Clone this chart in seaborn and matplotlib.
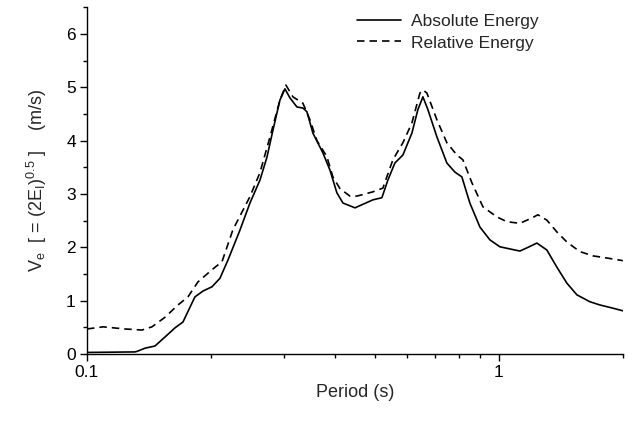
import numpy as np
import pandas as pd
import matplotlib
matplotlib.use("Agg")
import matplotlib.pyplot as plt
import seaborn as sns
from matplotlib.ticker import FixedLocator, NullFormatter, MultipleLocator

# Absolute energy (solid)
abs_period = [0.100, 0.1307, 0.1323, 0.1383, 0.1462, 0.1547, 0.1635, 0.1710, 0.1828,
              0.1912, 0.2011, 0.2103, 0.2199, 0.2351, 0.2487, 0.2630, 0.2735, 0.2829,
              0.2941, 0.3024, 0.3110, 0.3234, 0.3344, 0.3420, 0.3536, 0.3739, 0.3888,
              0.4044, 0.4183, 0.4473, 0.4946, 0.5200, 0.5377, 0.5591, 0.5848, 0.6149,
              0.6359, 0.6540, 0.6725, 0.7072, 0.7477, 0.7820, 0.8131, 0.8503, 0.8994,
              0.9510, 1.0056, 1.0634, 1.1245, 1.1695, 1.2367, 1.3074, 1.3825, 1.4621,
              1.5463, 1.6634, 1.7588, 1.8913, 2.000]
abs_energy = [0.03, 0.04, 0.05, 0.11, 0.15, 0.32, 0.49, 0.60, 1.07,
              1.18, 1.26, 1.42, 1.76, 2.32, 2.83, 3.26, 3.69, 4.20,
              4.76, 4.97, 4.80, 4.63, 4.61, 4.54, 4.14, 3.77, 3.45,
              3.02, 2.83, 2.74, 2.89, 2.93, 3.26, 3.58, 3.73, 4.14,
              4.58, 4.82, 4.58, 4.07, 3.58, 3.41, 3.32, 2.83, 2.38,
              2.14, 2.01, 1.97, 1.93, 1.99, 2.08, 1.95, 1.63, 1.33,
              1.11, 0.98, 0.92, 0.86, 0.81]

# Relative energy (dashed)
rel_period = [0.100, 0.1094, 0.1237, 0.1360, 0.1438, 0.1547, 0.1663, 0.1758, 0.1859,
              0.2011, 0.2127, 0.2261, 0.2487, 0.2630, 0.2782, 0.2941, 0.3041, 0.3162,
              0.3344, 0.3478, 0.3616, 0.3823, 0.3954, 0.4113, 0.4349, 0.4523, 0.4946,
              0.5229, 0.5529, 0.5848, 0.6149, 0.6431, 0.6540, 0.6688, 0.7072, 0.7477,
              0.7908, 0.8177, 0.8600, 0.9146, 0.9888, 1.0457, 1.1245, 1.2027, 1.2436,
              1.3074, 1.3825, 1.4621, 1.5725, 1.6916, 1.8289, 2.000]
rel_energy = [0.47, 0.51, 0.47, 0.45, 0.51, 0.69, 0.92, 1.07, 1.35,
              1.58, 1.73, 2.33, 2.95, 3.40, 4.07, 4.76, 5.04, 4.82,
              4.70, 4.39, 4.00, 3.70, 3.32, 3.10, 2.96, 2.96, 3.04,
              3.11, 3.64, 3.96, 4.33, 4.89, 4.95, 4.89, 4.39, 3.96,
              3.73, 3.64, 3.21, 2.76, 2.57, 2.48, 2.45, 2.55, 2.61,
              2.51, 2.29, 2.10, 1.92, 1.84, 1.80, 1.75]

x_tick_labels = ["0.1", "1"]
y_tick_labels = ["0", "1", "2", "3", "4", "5", "6"]

sns.set_style("ticks")
plt.rcParams['font.family'] = ['Liberation Sans', 'DejaVu Sans']
plt.rcParams['mathtext.fontset'] = 'custom'
plt.rcParams['mathtext.rm'] = 'Liberation Sans'
plt.rcParams['mathtext.it'] = 'Liberation Sans'

FS = 12.5

fig = plt.figure(figsize=(6.33, 4.23), dpi=100)
ax = fig.add_axes([0.1374, 0.163, 0.8466, 0.820])

df_abs = pd.DataFrame({"Period": abs_period, "V": abs_energy})
df_rel = pd.DataFrame({"Period": rel_period, "V": rel_energy})

sns.lineplot(data=df_abs, x="Period", y="V", ax=ax, color="black", lw=1.2,
             sort=False, label="Absolute Energy")
sns.lineplot(data=df_rel, x="Period", y="V", ax=ax, color="black", lw=1.2,
             sort=False, label="Relative Energy")
ax.lines[1].set_linestyle((0, (4.5, 3)))

ax.set_xscale("log")
ax.set_xlim(0.1, 2.0)
ax.set_ylim(0, 6.5)

ax.xaxis.set_major_locator(FixedLocator([0.1, 1]))
ax.xaxis.set_minor_locator(FixedLocator([0.2, 0.3, 0.4, 0.5, 0.6, 0.7, 0.8, 0.9, 2.0]))
ax.xaxis.set_minor_formatter(NullFormatter())
ax.set_xticklabels(x_tick_labels)
ax.yaxis.set_minor_locator(MultipleLocator(0.5))
ax.set_yticks([0, 1, 2, 3, 4, 5, 6])
ax.set_yticklabels(y_tick_labels)

ax.tick_params(axis="both", which="major", direction="out", length=5, width=1,
               labelsize=FS, color="black", labelcolor="black", pad=3)
ax.tick_params(axis="both", which="minor", direction="out", length=3, width=1,
               color="black")

for s in ["left", "bottom"]:
    ax.spines[s].set_color("black")
    ax.spines[s].set_linewidth(1.0)
sns.despine(ax=ax)

ax.set_xlabel("Period (s)", fontsize=13, labelpad=3)
ax.set_ylabel(r"V$_{\mathrm{e}}$  [ = (2E$_{\mathrm{I}}$)$^{0.5}$ ]    (m/s)",
              fontsize=13, labelpad=12)

leg = ax.legend(loc="upper left", bbox_to_anchor=(0.475, 1.025), frameon=False,
                fontsize=FS, handlelength=2.55, handletextpad=0.55, labelspacing=0.35)

fig.savefig("out.png", dpi=100)
